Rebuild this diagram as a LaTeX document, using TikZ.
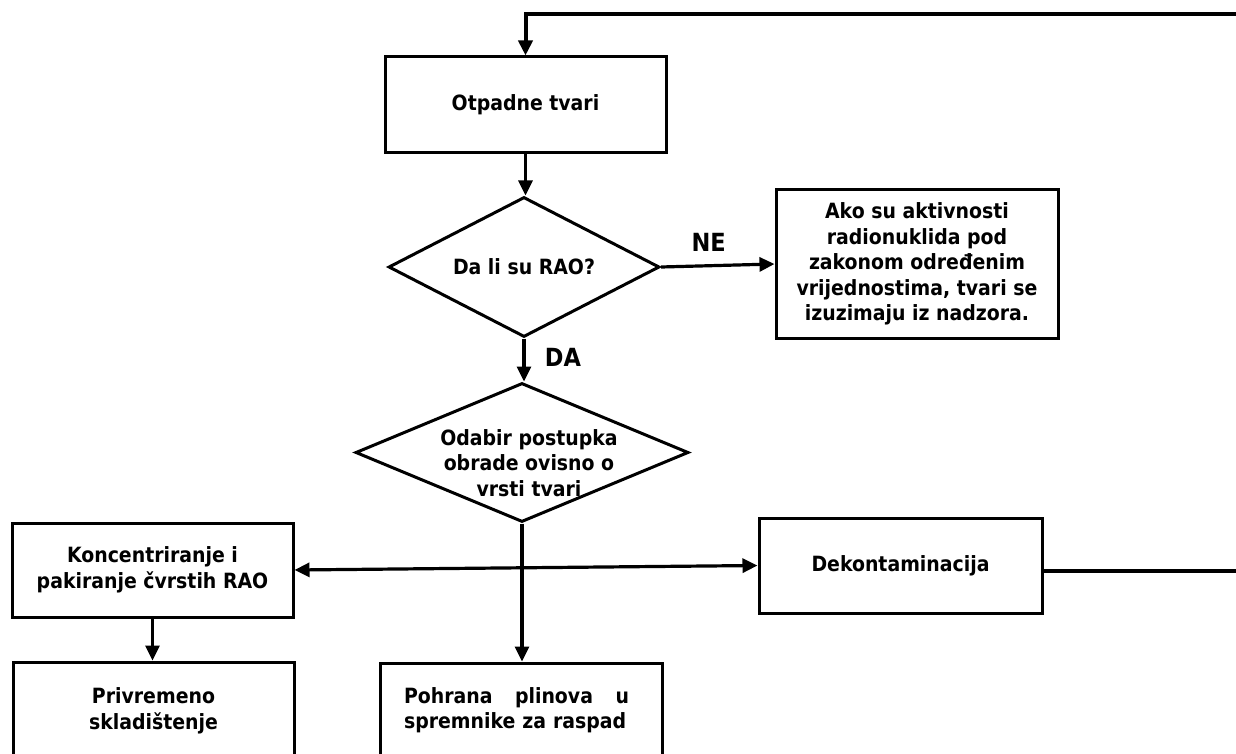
\documentclass[tikz,border=0pt]{standalone}
\usepackage{fontspec}
\newfontfamily\tf{DejaVu Sans Condensed Bold}
\usetikzlibrary{shapes.geometric,arrows.meta}
\begin{document}
\begin{tikzpicture}[x=1pt,y=-1pt,
  txt/.style={font=\tf\fontsize{21}{25.5}\selectfont},
  box/.style={draw,line width=3pt,rectangle,inner sep=0pt,align=center,txt},
  dia/.style={draw,line width=3pt,diamond,aspect=2,inner sep=0pt,align=center,txt},
  conn/.style={line width=3.2pt,-{Triangle[length=15pt,width=14pt]}},
  dconn/.style={line width=3.2pt,{Triangle[length=15pt,width=14pt]}-{Triangle[length=15pt,width=14pt]}},
  plain/.style={line width=3.2pt},
  lbl/.style={font=\tf\fontsize{25}{28}\selectfont}]
\useasboundingbox (0,0) rectangle (1236,754);
\clip (0,0) rectangle (1236,754);

\node[box,minimum width=281pt,minimum height=96pt] (otp) at (525.5,105) {Otpadne tvari};
\node[dia,minimum width=271pt,minimum height=140pt] (d1) at (524,267) {Da li su RAO?};
\node[box,minimum width=282pt,minimum height=148pt] (ako) at (917,264)
  {Ako su aktivnosti\\radionuklida pod\\zakonom određenim\\vrijednostima, tvari se\\izuzimaju iz nadzora.};
\node[dia,minimum width=333pt,minimum height=139pt] (d2) at (522,452.5) {};
\node[txt,align=center] (d2t) at (529,463) {Odabir postupka\\obrade ovisno o\\vrsti tvari};
\node[box,minimum width=281pt,minimum height=94pt] (kon) at (152.5,570) {Koncentriranje i\\pakiranje čvrstih RAO};
\node[box,minimum width=283pt,minimum height=95pt] (dek) at (900.5,565.5) {Dekontaminacija};
\node[box,minimum width=281pt,minimum height=98pt] (priv) at (153.5,711) {Privremeno\\skladištenje};
\node[box,minimum width=282pt,minimum height=98pt] (poh) at (521,712) {};
\node[txt,text width=225pt,align=left] (poht) at (516.5,710) {Pohrana\hfill plinova\hfill u\\spremnike za raspad};

\coordinate (tr) at (1236,14);
\coordinate (dr) at (1236,571);

\draw[conn,line width=4pt] (tr) -| (otp.north);
\draw[conn] (otp.south) -- (otp.south |- d1.north);
\draw[conn] (d1.east) -- (ako.west) node[lbl,pos=0.42,above=9pt] (ne) {NE};
\draw[conn] (d1.south) -- (d1.south |- d2.north) node[lbl,pos=0.45,right=16pt] (da) {DA};
\draw[conn] (d2.south) -- (d2.south |- poh.north);
\draw[dconn] (kon.east) -- (dek.west);
\draw[conn] (kon.south) -- (kon.south |- priv.north);
\draw[plain] (dek.east |- dr) -- (dr);
\end{tikzpicture}
\end{document}
